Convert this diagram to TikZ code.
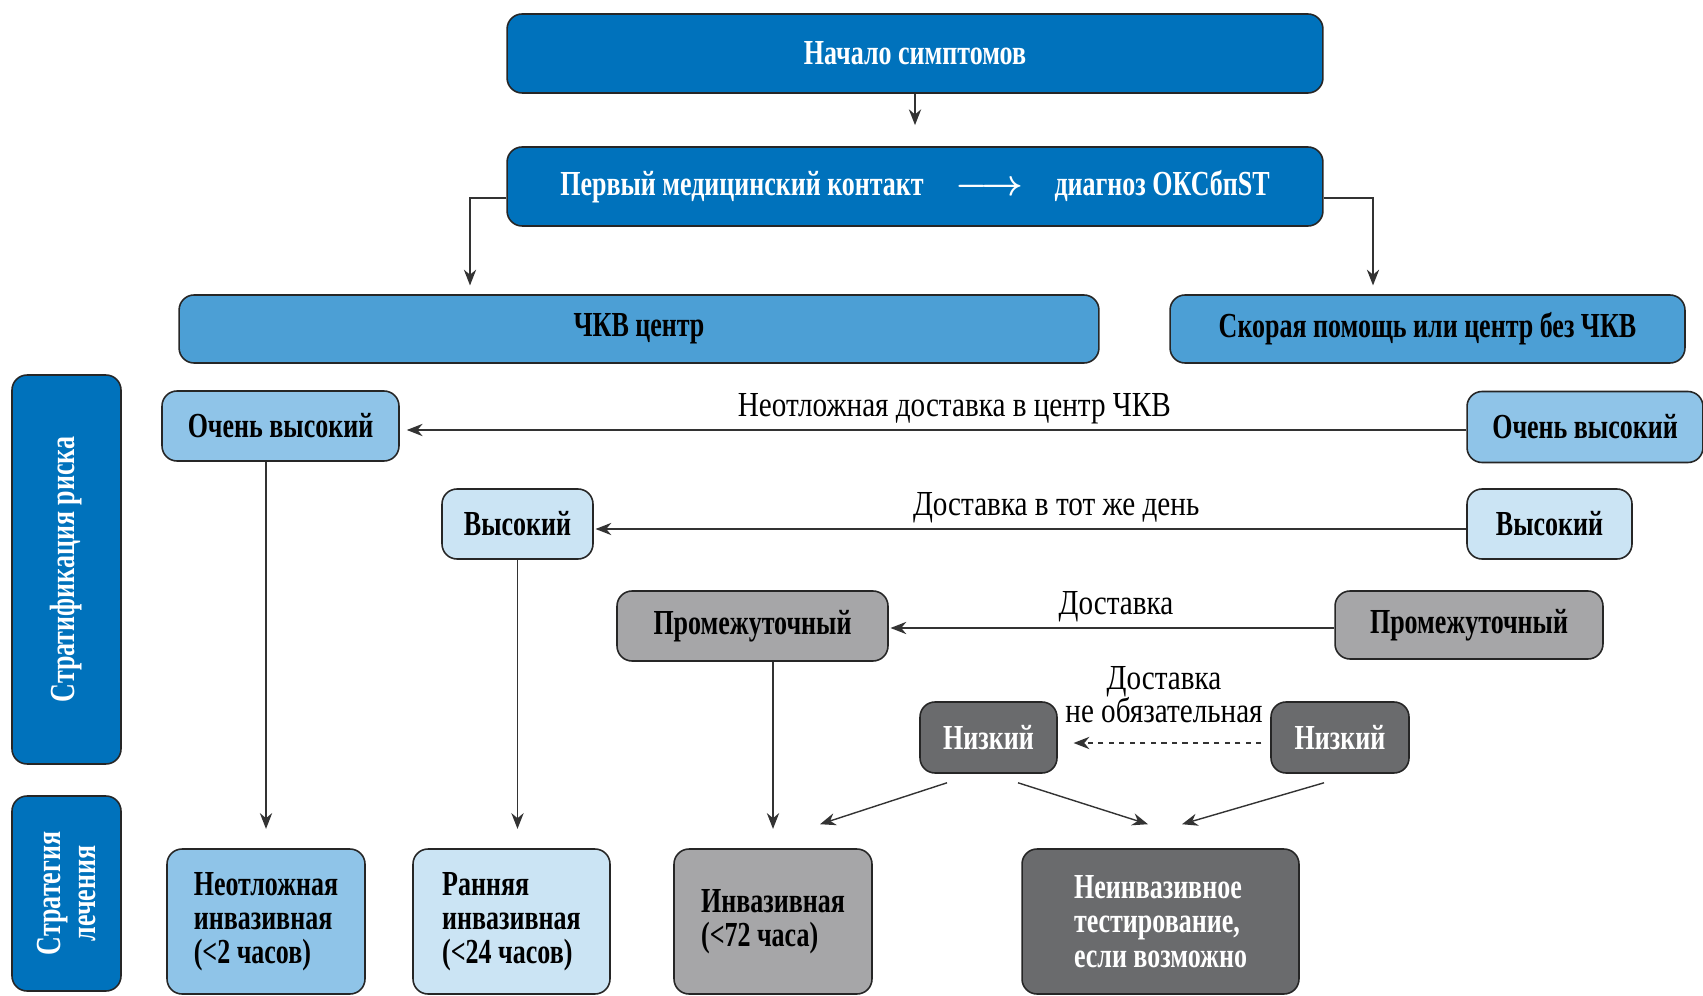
\documentclass[tikz,border=0pt]{standalone}
\usepackage{fontspec}
\setmainfont[FakeStretch=0.83]{Liberation Serif}
\newfontfamily\boxfont[FakeStretch=0.74]{Liberation Serif Bold}
\usepackage{xcolor}
\usetikzlibrary{arrows.meta, calc}

\definecolor{darkblue}{HTML}{0072BC}
\definecolor{midblue}{HTML}{4C9FD5}
\definecolor{paleblue}{HTML}{8FC4E8}
\definecolor{lightblue}{HTML}{CBE4F4}
\definecolor{midgray}{HTML}{A6A6A8}
\definecolor{darkgray}{HTML}{6A6B6D}

\begin{document}
\begin{tikzpicture}[x=0.02cm, y=-0.02cm,
    box/.style={draw=black!85, line width=0.9pt, rounded corners=0.3cm, align=center,
        inner sep=2pt, font=\fontsize{20}{19.5}\selectfont\boxfont},
    head/.style={box, fill=darkblue, text=white},
    site/.style={box, fill=midblue},
    side/.style={box, fill=darkblue, text=white, rotate=90},
    vhigh/.style={box, fill=paleblue},
    high/.style={box, fill=lightblue},
    inter/.style={box, fill=midgray},
    low/.style={box, fill=darkgray, text=white},
    plan/.style={box, align=left},
    link/.style={draw=black!80, line width=0.8pt, -{Stealth[length=9pt,width=7pt]}},
    tag/.style={font=\fontsize{20}{20}\selectfont, inner sep=3pt}]
\useasboundingbox (0,0) rectangle (1703,996);

% top
\node[head, minimum width=16.32cm, minimum height=1.58cm] (start) at (915,53.5) {Начало симптомов};
\node[head, minimum width=16.32cm, minimum height=1.58cm] (fmc) at (915,186.5)
    {Первый медицинский контакт\hspace{0.9em}{\boldmath$\longrightarrow$}\hspace{0.9em}диагноз ОКСбпST};
\node[site, minimum width=18.4cm, minimum height=1.36cm] (pci) at (639,329) {ЧКВ центр};
\node[site, minimum width=10.3cm, minimum height=1.36cm] (nopci) at (1427.5,329) {Скорая помощь или центр без ЧКВ};

% side bars
\node[side, minimum width=7.78cm, minimum height=2.18cm] (risk) at (66.5,569.5) {Стратификация риска};
\node[side, minimum width=3.9cm, minimum height=2.18cm] (treat) at (66.5,893.5) {Стратегия\\лечения};

% risk levels
\node[vhigh, minimum width=4.74cm, minimum height=1.4cm] (vhL) at (280.5,426) {Очень высокий};
\node[vhigh, minimum width=4.72cm, minimum height=1.42cm] (vhR) at (1585,427) {Очень высокий};
\node[high, minimum width=3.02cm, minimum height=1.4cm] (hL) at (517.5,524) {Высокий};
\node[high, minimum width=3.3cm, minimum height=1.4cm] (hR) at (1549.5,524) {Высокий};
\node[inter, minimum width=5.42cm, minimum height=1.4cm] (iL) at (752.5,626) {Промежуточный};
\node[inter, minimum width=5.36cm, minimum height=1.36cm] (iR) at (1469,625) {Промежуточный};
\node[low, minimum width=2.74cm, minimum height=1.42cm] (lL) at (988.5,737.5) {Низкий};
\node[low, minimum width=2.76cm, minimum height=1.42cm] (lR) at (1340,737.5) {Низкий};

% treatment
\node[plan, fill=paleblue, minimum width=3.96cm, minimum height=2.9cm] (t1) at (266,921.5)
    {Неотложная\\инвазивная\\(<2 часов)};
\node[plan, fill=lightblue, minimum width=3.94cm, minimum height=2.9cm] (t2) at (511.5,921.5)
    {Ранняя\\инвазивная\\(<24 часов)};
\node[plan, fill=midgray, minimum width=3.96cm, minimum height=2.9cm] (t3) at (773,921.5)
    {Инвазивная\\(<72 часа)};
\node[plan, fill=darkgray, text=white, minimum width=5.54cm, minimum height=2.9cm] (t4) at (1160.5,921.5)
    {Неинвазивное\\тестирование,\\если возможно};

% connectors
\draw[link, shorten >=12pt] (start) -- (fmc);
\draw[link, shorten >=5pt] ($(fmc.west)+(0,11.5)$) -| ($(pci.north)+(-169,0)$);
\draw[link, shorten >=5pt] ($(fmc.east)+(0,11.5)$) -| ($(nopci.north)+(-54.5,0)$);

\draw[link, shorten >=4pt] (vhR.west |- 0,430) -- node[tag, above, pos=0.48] {Неотложная доставка в центр ЧКВ} (vhL.east |- 0,430);
\draw[link, shorten >=1pt] (hR.west |- 0,529) -- node[tag, above, pos=0.47] {Доставка в тот же день} (hL.east |- 0,529);
\draw[link, shorten >=1pt] (iR.west |- 0,628) -- node[tag, above, pos=0.49] {Доставка} (iL.east |- 0,628);
\draw[link, dashed, shorten <=5pt, shorten >=9pt] (lR.west |- 0,743) -- node[tag, above=8pt, pos=0.5, align=center,
    font=\fontsize{20}{19}\selectfont] {Доставка\\не обязательная} (lL.east |- 0,743);

\draw[link, shorten >=11pt] (vhL.south -| t1.north) -- (t1.north);
\draw[link, shorten >=11pt] (hL.south) -- (hL.south |- t2.north);
\draw[link, shorten >=11pt] (iL.south -| t3.north) -- (t3.north);
\draw[link] ($(lL.south)+(-41.5,9)$) -- ($(t3.north)+(47,-24)$);
\draw[link] ($(lL.south)+(29.5,9)$) -- ($(t4.north)+(-12.5,-24)$);
\draw[link] ($(lR.south)+(-16,9)$) -- ($(t4.north)+(21.5,-24)$);
\end{tikzpicture}
\end{document}
